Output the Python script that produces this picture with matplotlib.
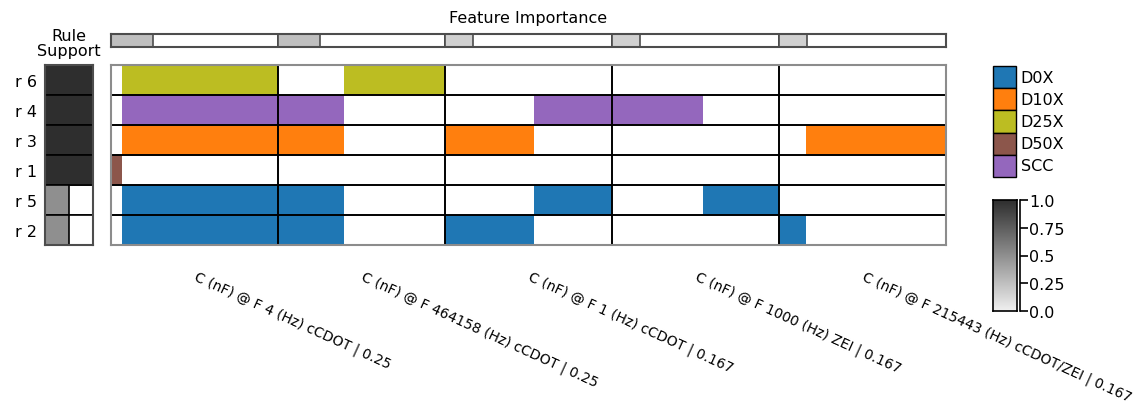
import numpy as np
import matplotlib
matplotlib.use('Agg')
import matplotlib.pyplot as plt
from matplotlib.colors import LinearSegmentedColormap
from matplotlib.patches import Rectangle

W, H = 1136, 402

# rules, top to bottom
rules = ['r 6', 'r 4', 'r 3', 'r 1', 'r 5', 'r 2']
rule_class = ['D25X', 'SCC', 'D10X', 'D50X', 'D0X', 'D0X']
rule_support = [1.0, 1.0, 1.0, 1.0, 0.5, 0.5]

features = ['C (nF) @ F 4 (Hz) cCDOT',
            'C (nF) @ F 464158 (Hz) cCDOT',
            'C (nF) @ F 1 (Hz) cCDOT',
            'C (nF) @ F 1000 (Hz) ZEI',
            'C (nF) @ F 215443 (Hz) cCDOT/ZEI']
importance = [0.25, 0.25, 0.167, 0.167, 0.167]

classes = ['D0X', 'D10X', 'D25X', 'D50X', 'SCC']
class_colors = ['tab:blue', 'tab:orange', 'tab:olive', 'tab:brown', 'tab:purple']

# rule conditions: (feature, low, high) on the scaled feature range [0, 1]
conditions = [
    [(0, 0.066, 1.0), (1, 0.395, 1.0)],
    [(0, 0.066, 1.0), (1, 0.0, 0.395), (2, 0.533, 1.0), (3, 0.0, 0.545)],
    [(0, 0.066, 1.0), (1, 0.0, 0.395), (2, 0.0, 0.533), (4, 0.162, 1.0)],
    [(0, 0.0, 0.066)],
    [(0, 0.066, 1.0), (1, 0.0, 0.395), (2, 0.533, 1.0), (3, 0.545, 1.0)],
    [(0, 0.066, 1.0), (1, 0.0, 0.395), (2, 0.0, 0.533), (4, 0.0, 0.162)],
]

cmap = LinearSegmentedColormap.from_list('support', ['#f0f0f0', '#2e2e2e'])
color_of = dict(zip(classes, class_colors))
plt.rcParams['font.family'] = 'DejaVu Sans'
plt.rcParams['font.size'] = 11.5

fig = plt.figure(figsize=(W / 100, H / 100), dpi=100)


def px_axes(x0, y0, x1, y1):
    return fig.add_axes([x0 / W, 1 - y1 / H, (x1 - x0) / W, (y1 - y0) / H])


n_rules, n_feat = len(rules), len(features)
rows = np.arange(n_rules)

# main grid of rule conditions
ax = px_axes(111, 66, 946, 246)
for r, conds in enumerate(conditions):
    for f, lo, hi in conds:
        ax.barh(r, hi - lo, left=f + lo, height=1, color=color_of[rule_class[r]], lw=0)
for r in range(n_rules):
    for f in range(n_feat):
        ax.add_patch(Rectangle((f, r - 0.5), 1, 1, fill=False, ec='black', lw=1.2))
ax.set_xlim(0, n_feat)
ax.set_ylim(n_rules - 0.5, -0.5)
ax.set_yticks([])
ax.set_xticks(np.arange(n_feat) + 0.52)
ax.set_xticklabels(['%s | %g' % (f, v) for f, v in zip(features, importance)],
                   rotation=-24.5, ha='left', va='top', rotation_mode='anchor', fontsize=10)
ax.tick_params(axis='x', length=0, pad=17)
for s in ax.spines.values():
    s.set_color('0.55')
    s.set_linewidth(1.5)

# feature importance strip
ax_imp = px_axes(111, 35, 946, 48)
for f in range(n_feat):
    ax_imp.add_patch(Rectangle((f, 0), 1, 1, fc='white', ec='0.3', lw=1.2))
ax_imp.barh(0.5, importance, left=np.arange(n_feat), height=1,
            color=cmap(np.array(importance)), ec='0.3', lw=1.2)
ax_imp.set_xlim(0, n_feat)
ax_imp.set_ylim(0, 1)
ax_imp.set_xticks([])
ax_imp.set_yticks([])
for s in ax_imp.spines.values():
    s.set_color('0.3')
    s.set_linewidth(1.5)
fig.text(528.5 / W, 1 - 19 / H, 'Feature Importance', ha='center', va='center')

# rule support
ax_sup = px_axes(45, 66, 93, 246)
for r in range(n_rules):
    ax_sup.add_patch(Rectangle((0, r - 0.5), 1, 1, fc='white', ec='black', lw=1.2))
ax_sup.barh(rows, rule_support, left=0, height=1,
            color=cmap(np.array(rule_support)), ec='black', lw=1.2)
ax_sup.set_xlim(0, 1)
ax_sup.set_ylim(n_rules - 0.5, -0.5)
ax_sup.set_xticks([])
ax_sup.set_yticks(rows)
ax_sup.set_yticklabels(rules)
ax_sup.tick_params(axis='y', length=0, pad=6)
for s in ax_sup.spines.values():
    s.set_color('0.3')
    s.set_linewidth(1.5)
fig.text(69 / W, 1 - 44 / H, 'Rule\nSupport', ha='center', va='center', linespacing=1.05)

# class legend
ax_leg = px_axes(993, 67, 1016, 178)
bars = ax_leg.barh(np.arange(len(classes)), 1, height=1, color=class_colors, ec='black', lw=1)
for b in bars:
    b.set_clip_on(False)
for i, c in enumerate(classes):
    ax_leg.text(1.2, i, c, va='center', ha='left', transform=ax_leg.get_yaxis_transform())
ax_leg.set_xlim(0, 1)
ax_leg.set_ylim(len(classes) - 0.5, -0.5)
ax_leg.axis('off')

# support colorbar
ax_cb = px_axes(993, 201, 1017, 312)
ax_cb.imshow(np.linspace(1, 0, 256)[:, None], cmap=cmap, aspect='auto',
             extent=[0, 1, 0, 1], vmin=0, vmax=1)
ax_cb.set_xticks([])
ax_cb.set_yticks([])
for s in ax_cb.spines.values():
    s.set_color('black')
    s.set_linewidth(1.2)

ax_tk = px_axes(1020, 201, 1026, 312)
ax_tk.set_ylim(0, 1)
ax_tk.set_xticks([])
cb_ticks = [0.0, 0.25, 0.5, 0.75, 1.0]
ax_tk.set_yticks(cb_ticks)
ax_tk.set_yticklabels(['0.0', '0.25', '0.5', '0.75', '1.0'])
ax_tk.tick_params(axis='y', left=True, right=False, labelleft=False, labelright=True,
                  direction='in', length=6, width=1.2, pad=2.5)
ax_tk.patch.set_alpha(0)
for k in ['top', 'right', 'bottom']:
    ax_tk.spines[k].set_visible(False)
ax_tk.spines['left'].set_linewidth(1.2)

fig.savefig('out.png', dpi=100)
